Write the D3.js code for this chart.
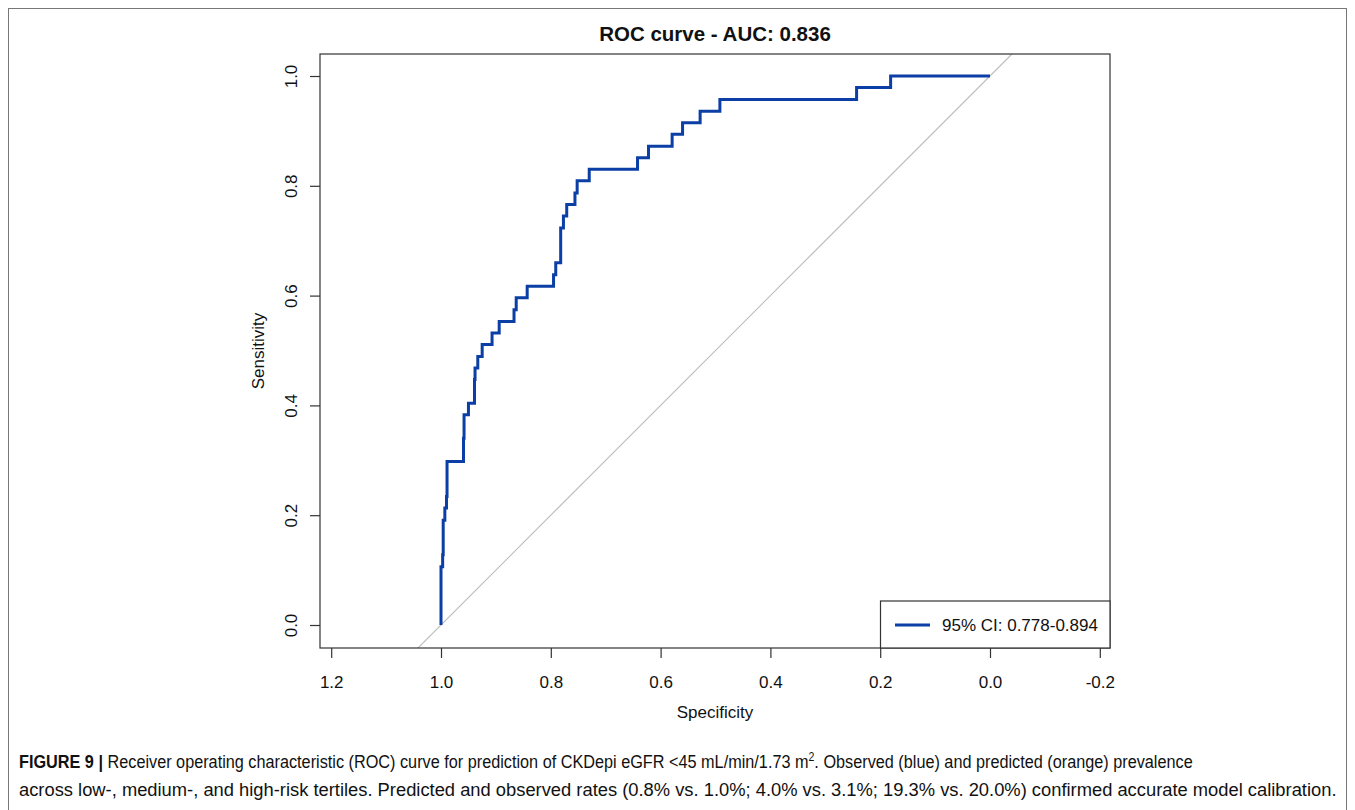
<!DOCTYPE html>
<html>
<head>
<meta charset="utf-8">
<title>ROC curve</title>
<script src="https://cdn.jsdelivr.net/npm/d3@7"></script>
<style>
  body { margin: 0; background: #fff; }
  text { font-family: "Liberation Sans", Arial, Helvetica, sans-serif; fill: #111; }
</style>
</head>
<body>
<script>
// ROC vertices (specificity, sensitivity)
var specificity = [1.000, 1.000, 0.997, 0.997, 0.996, 0.996, 0.993, 0.993, 0.990, 0.990,
  0.989, 0.989, 0.959, 0.959, 0.958, 0.958, 0.950, 0.950, 0.939, 0.939,
  0.938, 0.938, 0.933, 0.933, 0.925, 0.925, 0.907, 0.907, 0.894, 0.894,
  0.867, 0.867, 0.863, 0.863, 0.843, 0.843, 0.795, 0.795, 0.791, 0.791,
  0.782, 0.782, 0.777, 0.777, 0.771, 0.771, 0.756, 0.756, 0.752, 0.752,
  0.730, 0.730, 0.642, 0.642, 0.622, 0.622, 0.579, 0.579, 0.560, 0.560,
  0.528, 0.528, 0.492, 0.492, 0.243, 0.243, 0.181, 0.181, 0.000];
var sensitivity = [0.000, 0.106, 0.106, 0.128, 0.128, 0.191, 0.191, 0.213, 0.213, 0.234,
  0.234, 0.298, 0.298, 0.340, 0.340, 0.383, 0.383, 0.404, 0.404, 0.447,
  0.447, 0.468, 0.468, 0.489, 0.489, 0.511, 0.511, 0.532, 0.532, 0.553,
  0.553, 0.574, 0.574, 0.596, 0.596, 0.617, 0.617, 0.638, 0.638, 0.660,
  0.660, 0.723, 0.723, 0.745, 0.745, 0.766, 0.766, 0.787, 0.787, 0.809,
  0.809, 0.830, 0.830, 0.851, 0.851, 0.872, 0.872, 0.894, 0.894, 0.915,
  0.915, 0.936, 0.936, 0.957, 0.957, 0.979, 0.979, 1.000, 1.000];
var xTicks = [1.2, 1.0, 0.8, 0.6, 0.4, 0.2, 0.0, -0.2];
var yTicks = [0.0, 0.2, 0.4, 0.6, 0.8, 1.0];
var title = "ROC curve - AUC: 0.836";
var legendLabel = "95% CI: 0.778-0.894";

var width = 1355, height = 810;
var box = {left: 320, right: 1110, top: 54, bottom: 648};
var blue = "#0b3fa5";

var svg = d3.select("body").append("svg").attr("width", width).attr("height", height);

// figure frame
svg.append("rect").attr("x", 8.5).attr("y", 8.5).attr("width", 1338).attr("height", 830)
  .attr("fill", "none").attr("stroke", "#777").attr("stroke-width", 1);

var x = d3.scaleLinear().domain([1, 0]).range([441, 990]);
var y = d3.scaleLinear().domain([0, 1]).range([625, 76]);

var plot = svg.append("g");
plot.append("clipPath").attr("id", "clip").append("rect")
  .attr("x", box.left).attr("y", box.top)
  .attr("width", box.right - box.left).attr("height", box.bottom - box.top);

// chance diagonal: sensitivity = 1 - specificity
var s0 = x.invert(box.left), s1 = x.invert(box.right);
plot.append("line")
  .attr("clip-path", "url(#clip)")
  .attr("x1", x(s0)).attr("y1", y(1 - s0))
  .attr("x2", x(s1)).attr("y2", y(1 - s1))
  .attr("stroke", "#bdbdbd").attr("stroke-width", 1.2);

var pts = specificity.map(function(s, i) { return [s, sensitivity[i]]; });
var line = d3.line().x(function(d) { return x(d[0]); }).y(function(d) { return y(d[1]); });
plot.append("path").datum(pts)
  .attr("d", line)
  .attr("fill", "none").attr("stroke", blue).attr("stroke-width", 3)
  .attr("stroke-linejoin", "miter");

// axes
var fmt = function(d) { return d.toFixed(1); };
var xAxis = svg.append("g").attr("transform", "translate(0," + box.bottom + ")")
  .call(d3.axisBottom(x).tickValues(xTicks).tickFormat(fmt).tickSize(10));
var yAxis = svg.append("g").attr("transform", "translate(" + box.left + ",0)")
  .call(d3.axisLeft(y).tickValues(yTicks).tickFormat(fmt).tickSize(10));
[xAxis, yAxis].forEach(function(a) {
  a.select(".domain").remove();
  a.selectAll(".tick line").attr("stroke", "#333").attr("stroke-width", 1.2);
  a.selectAll(".tick text").attr("font-size", 17).attr("fill", "#111")
    .style("font-family", "'Liberation Sans', Arial, sans-serif");
});
xAxis.selectAll(".tick text").attr("dy", "0.71em").attr("y", 28);
yAxis.selectAll(".tick text")
  .attr("x", null)
  .attr("text-anchor", "middle")
  .attr("transform", "translate(-29,0) rotate(-90)")
  .attr("dy", "0.35em");

// plot box
svg.append("rect").attr("x", box.left).attr("y", box.top)
  .attr("width", box.right - box.left).attr("height", box.bottom - box.top)
  .attr("fill", "none").attr("stroke", "#333").attr("stroke-width", 1.2);

// legend
var lg = svg.append("g");
lg.append("rect").attr("x", 880.5).attr("y", 601).attr("width", box.right - 880.5).attr("height", box.bottom - 601)
  .attr("fill", "#fff").attr("stroke", "#333").attr("stroke-width", 1.2);
lg.append("line").attr("x1", 895).attr("x2", 930).attr("y1", 625).attr("y2", 625)
  .attr("stroke", blue).attr("stroke-width", 3);
lg.append("text").attr("x", 942).attr("y", 631).attr("font-size", 17).text(legendLabel);

// titles
svg.append("text").attr("x", 715).attr("y", 41).attr("text-anchor", "middle")
  .attr("font-size", 20.5).attr("font-weight", "bold").text(title);
svg.append("text").attr("x", 715).attr("y", 718).attr("text-anchor", "middle")
  .attr("font-size", 17).text("Specificity");
svg.append("text").attr("transform", "translate(264,351) rotate(-90)").attr("text-anchor", "middle")
  .attr("font-size", 17).text("Sensitivity");

// caption
var cap1 = svg.append("text").attr("x", 19).attr("y", 768).attr("font-size", 18.5);
cap1.append("tspan").attr("font-weight", "bold").text("FIGURE 9 | ");
cap1.append("tspan").text("Receiver operating characteristic (ROC) curve for prediction of CKDepi eGFR <45 mL/min/1.73 m");
cap1.append("tspan").attr("font-size", 12).attr("dy", -7).text("2");
cap1.append("tspan").attr("dy", 7).text(". Observed (blue) and predicted (orange) prevalence");
var cap2 = svg.append("text").attr("x", 19).attr("y", 796).attr("font-size", 18.5)
  .text("across low-, medium-, and high-risk tertiles. Predicted and observed rates (0.8% vs. 1.0%; 4.0% vs. 3.1%; 19.3% vs. 20.0%) confirmed accurate model calibration.");
// the caption face is condensed; squeeze each line to its printed width
[[cap1, 1174], [cap2, 1319]].forEach(function(c) {
  var w = c[0].node().getComputedTextLength();
  c[0].attr("transform", "translate(19,0) scale(" + (c[1] / w) + ",1) translate(-19,0)");
});
</script>
</body>
</html>
